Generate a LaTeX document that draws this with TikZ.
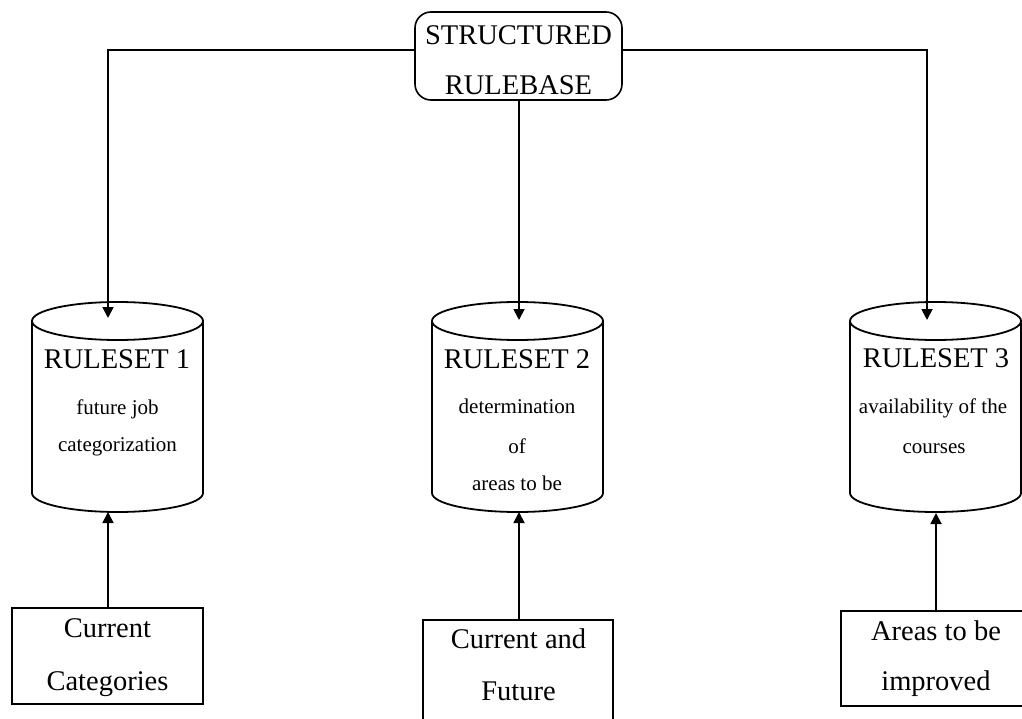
\documentclass[tikz,border=0pt]{standalone}
\usepackage{fontspec}
\setmainfont{Liberation Serif}
\usetikzlibrary{arrows.meta}
\tikzset{
  ln/.style={line width=1.8pt},
  arr/.style={ln, -{Triangle[length=11pt,width=11pt]}},
  big/.style={font=\fontsize{28.5}{30}\selectfont, inner sep=0pt, anchor=base},
  small/.style={font=\fontsize{21}{23}\selectfont, inner sep=0pt, anchor=base},
  boxnode/.style={draw, line width=1.6pt, inner sep=0pt},
}
\begin{document}
\begin{tikzpicture}[x=1pt,y=-1pt]
\useasboundingbox (0,0) rectangle (1022,719);
\clip (0,0) rectangle (1022,719);
\fill[white] (0,0) rectangle (1022,719);

% top node
\node[boxnode, rounded corners=16pt, minimum width=207pt, minimum height=88pt] (top) at (518.5,56) {};
\node[big] (topa) at (518.5,45) {STRUCTURED};
\node[big] (topb) at (518.5,95) {RULEBASE};

% cylinders
\draw[ln] (117.5,321) ellipse [x radius=85.5pt, y radius=19pt];
\draw[ln] (32,321) -- (32,493) .. controls (32,503.5) and (70.3,512) .. (117.5,512)
  .. controls (164.7,512) and (203,503.5) .. (203,493) -- (203,321);
\draw[ln] (517.5,321) ellipse [x radius=85.5pt, y radius=19pt];
\draw[ln] (432,321) -- (432,493) .. controls (432,503.5) and (470.3,512) .. (517.5,512)
  .. controls (564.7,512) and (603,503.5) .. (603,493) -- (603,321);
\draw[ln] (935.5,321) ellipse [x radius=85.5pt, y radius=19pt];
\draw[ln] (850,321) -- (850,493) .. controls (850,503.5) and (888.3,512) .. (935.5,512)
  .. controls (982.7,512) and (1021,503.5) .. (1021,493) -- (1021,321);

\node[big] (c1a) at (117,368) {RULESET 1};
\node[small] (c1b) at (117.5,414) {future job};
\node[small] (c1c) at (117.5,451) {categorization};

\node[big] (c2a) at (517,368) {RULESET 2};
\node[small] (c2b) at (517,413) {determination};
\node[small] (c2c) at (517,453) {of};
\node[small] (c2d) at (517,490) {areas to be};

\node[big] (c3a) at (936,367) {RULESET 3};
\node[small] (c3b) at (933,413) {availability of the};
\node[small] (c3c) at (934,453) {courses};

% bottom boxes
\node[boxnode, minimum width=191pt, minimum height=96pt] (b1) at (107.5,656) {};
\node[big] (b1a) at (107.5,637) {Current};
\node[big] (b1b) at (107.5,690) {Categories};

\node[boxnode, minimum width=190pt, minimum height=140pt] (b2) at (518,690) {};
\node[big] (b2a) at (518.5,648) {Current and};
\node[big] (b2b) at (518.5,700) {Future};

\node[boxnode, minimum width=199pt, minimum height=95pt] (b3) at (940.5,658.5) {};
\node[big] (b3a) at (936,640) {Areas to be};
\node[big] (b3b) at (936,690) {improved};

% connection coordinates
\coordinate (k1) at (108,50);
\coordinate (k3) at (927,50);
\coordinate (r1t) at (108,318);
\coordinate (r2t) at (519,320);
\coordinate (r3t) at (927,320);
\coordinate (r1b) at (108,512);
\coordinate (r2b) at (519,512);
\coordinate (r3b) at (936,513);

% connectors
\draw[arr] (top.west |- k1) -- (k1) -- (r1t);
\draw[arr] (top.east |- k3) -- (k3) -- (r3t);
\draw[arr] (r2t |- top.south) -- (r2t);
\draw[arr] (r1b |- b1.north) -- (r1b);
\draw[arr] (r2b |- b2.north) -- (r2b);
\draw[arr] (r3b |- b3.north) -- (r3b);
\end{tikzpicture}
\end{document}
